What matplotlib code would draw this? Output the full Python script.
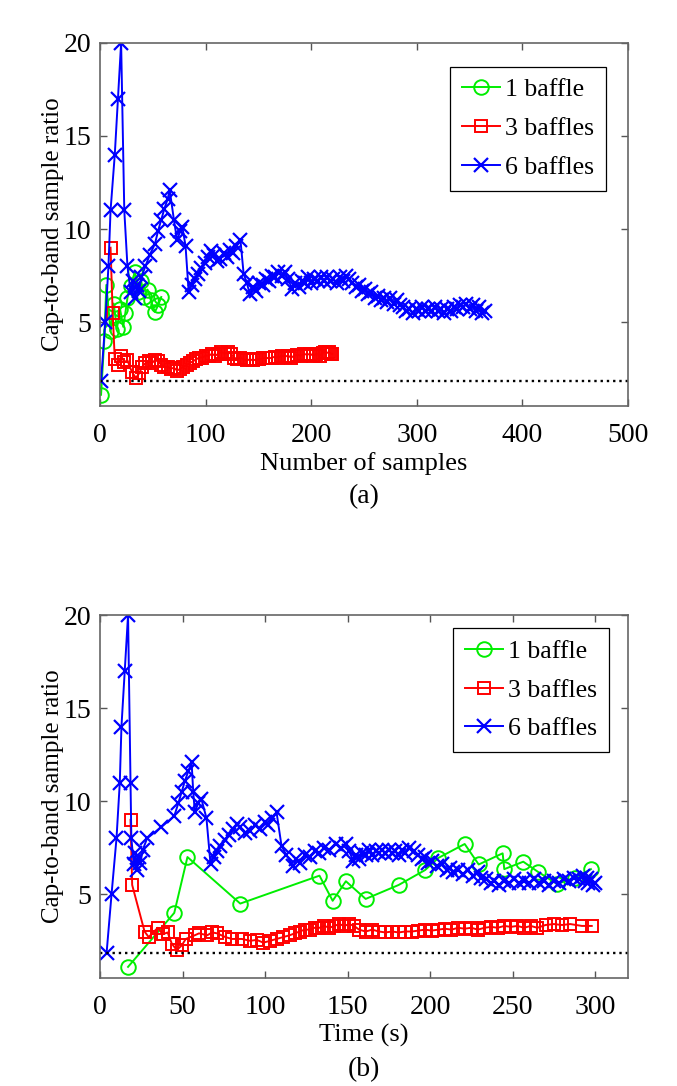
import numpy as np
import matplotlib
matplotlib.use('Agg')
import matplotlib.pyplot as plt

plt.rcParams['font.family'] = ['Liberation Serif', 'DejaVu Serif']

# threshold (dotted line)
threshold = 1.85

# 1 baffle
g_ratio = [1.1, 4.0, 7.0, 4.5, 6.0, 4.65, 5.7, 4.75, 5.5, 6.3,
           6.95, 7.7, 6.6, 7.2, 6.35, 6.75, 6.2, 5.55, 5.9, 6.35]
g_samples = [1, 4, 6, 10, 13, 16, 19, 22, 24, 26,
             29, 33, 36, 39, 42, 45, 48, 52, 55, 58]
g_time = [17, 45, 53, 85, 133, 141, 149, 161, 181, 197,
          205, 221, 229.5, 244, 245, 256.5, 265.5, 277, 288, 297.5]

# 3 baffles
r_ratio = [9.0, 5.5, 3.0, 2.7, 3.2, 2.85, 2.95, 2.35, 2.0, 2.25,
           2.6, 2.8, 2.9, 2.8, 2.95, 2.9, 2.7, 2.6, 2.6, 2.5,
           2.55, 2.4, 2.5, 2.6, 2.7, 2.8, 2.9, 3.0, 3.1, 3.1,
           3.2, 3.2, 3.3, 3.2, 3.3, 3.4, 3.3, 3.4, 3.3, 3.1,
           3.0, 3.1, 3.0, 2.95, 3.0, 2.95, 3.0, 3.0, 3.05, 3.1,
           3.05, 3.1, 3.15, 3.1, 3.2, 3.15, 3.2, 3.1, 3.2, 3.25,
           3.2, 3.3, 3.25, 3.3, 3.2, 3.3, 3.2, 3.35, 3.4, 3.35,
           3.4, 3.3, 3.3]
r_samples = [10, 12, 14, 17, 20, 23, 26, 30, 34, 37,
             40, 43, 46, 49, 52, 55, 58, 61, 64, 67,
             70, 73, 76, 79, 82, 85, 88, 91, 94, 97,
             100, 103, 106, 109, 112, 115, 118, 121, 124, 127,
             130, 133, 136, 139, 142, 145, 148, 151, 154, 157,
             160, 163, 166, 169, 172, 175, 178, 181, 184, 187,
             190, 193, 196, 199, 202, 205, 208, 211, 213, 215,
             217, 219, 220]
r_time = [18.5, 19.5, 27, 29.5, 35, 38, 41, 43.5, 46.5, 49.5,
          52, 57.5, 60, 65, 68, 71, 76, 80, 86, 91,
          95, 99, 103, 107, 111, 115, 118, 121, 124, 127,
          130, 133, 136, 139, 142, 145, 148, 151, 154, 157,
          161, 165, 169, 173, 177, 181, 185, 189, 193, 197,
          201, 205, 209, 213, 217, 221, 225, 229, 233, 237,
          241, 245, 249, 253, 257, 261, 265, 270, 275, 280,
          285, 292, 298]

# 6 baffles
b_ratio = [1.85, 5.0, 8.0, 11.0, 14.0, 17.0, 20.0, 11.0, 8.0, 6.6,
           7.2, 6.3, 7.0, 6.7, 7.4, 8.0, 8.6, 9.2, 9.9, 10.5,
           11.1, 11.6, 12.1, 10.5, 9.4, 9.9, 10.1, 9.1, 6.6, 7.0,
           7.3, 7.6, 7.9, 8.2, 8.5, 8.8, 8.6, 8.3, 8.4, 8.7,
           8.5, 8.9, 8.7, 9.1, 9.4, 7.6, 7.1, 6.5, 6.9, 6.7,
           7.1, 7.0, 7.3, 7.2, 7.5, 7.4, 7.7, 7.5, 7.7, 7.3,
           6.8, 7.1, 6.9, 7.2, 7.1, 7.4, 7.1, 7.3, 7.2, 7.4,
           7.2, 7.4, 7.2, 7.3, 7.1, 7.4, 7.2, 7.5, 7.3, 7.1,
           6.9, 7.0, 6.7, 6.8, 6.5, 6.6, 6.3, 6.4, 6.2, 6.3,
           6.1, 6.3, 6.0, 6.2, 5.9, 5.8, 5.6, 5.7, 5.5, 5.7,
           5.6, 5.8, 5.6, 5.7, 5.6, 5.8, 5.6, 5.7, 5.5, 5.7,
           5.6, 5.8, 5.7, 5.9, 5.8, 6.0, 5.7, 5.9, 5.6, 5.8,
           5.5, 5.6]
b_samples = [1, 5, 8, 10, 14, 17, 20, 23, 26, 29,
             31, 33, 35, 37, 39, 43, 47, 52, 55, 58,
             61, 64, 66, 70, 73, 76, 78, 81, 84, 87,
             90, 93, 96, 99, 102, 105, 108, 111, 114, 117,
             120, 123, 126, 129, 133, 136, 139, 142, 145, 148,
             151, 154, 157, 160, 163, 166, 169, 172, 175, 178,
             182, 185, 188, 191, 194, 197, 200, 203, 206, 209,
             212, 215, 218, 221, 224, 227, 230, 233, 236, 239,
             242, 245, 248, 251, 254, 257, 260, 263, 266, 269,
             272, 275, 278, 281, 284, 287, 290, 293, 296, 299,
             302, 305, 308, 311, 314, 317, 320, 323, 326, 329,
             332, 335, 338, 341, 344, 347, 350, 353, 356, 359,
             362, 365]
b_time = [4, 7, 10, 12, 13, 15, 17, 18.5, 19, 20.5,
          21.5, 22.5, 23.5, 24.5, 26, 28.5, 37, 45, 47.5, 49.5,
          51.5, 53.5, 55.5, 56.5, 57.5, 59.5, 61.5, 64.5, 67, 69,
          71, 73, 75.5, 78, 80.5, 83, 85, 88, 91, 94,
          97, 100, 102, 104.5, 107, 110, 113, 117, 119, 121,
          124, 127, 130, 133, 136, 139, 143, 146, 149, 151,
          153.5, 155, 157, 159, 161, 163, 165, 167, 169, 171,
          173, 175, 177, 179, 181, 183, 185, 187, 190, 193,
          195, 197, 199, 201, 204, 207, 210, 212, 214, 217,
          220, 223, 226, 229, 231, 234, 237, 239, 242, 245,
          248, 251, 254, 257, 260, 263, 266, 269, 272, 275,
          278, 281, 284, 287, 290, 293, 294, 295, 296, 297.5,
          299, 300]

labels = ['1 baffle', '3 baffles', '6 baffles']

fig = plt.figure(figsize=(6.77, 10.86), dpi=100)
ax1 = fig.add_axes([0.1477, 0.6262, 0.78, 0.3343])
ax2 = fig.add_axes([0.1477, 0.0994, 0.78, 0.3343])


def draw(ax, gx, rx, bx, xmax, xticks, xlabel, legend_anchor):
    ax.plot(gx, g_ratio, '-o', color='#00ee00', mfc='none', mec='#00ee00',
            ms=10.5, mew=1.4, lw=1.4, label=labels[0])
    ax.plot(rx, r_ratio, '-s', color='#ff0000', mfc='none', mec='#ff0000',
            ms=8.5, mew=1.4, lw=1.4, label=labels[1])
    ax.plot(bx, b_ratio, '-x', color='#0000ff', ms=10, mew=1.6, lw=1.4,
            label=labels[2])
    ax.axhline(threshold, color='black', ls=':', lw=1.7)
    ax.set_xlim(0, xmax)
    ax.set_ylim(0.5, 20)
    ax.set_xticks(xticks)
    ax.set_yticks([5, 10, 15, 20])
    ax.tick_params(direction='in', top=True, right=True, labelsize=20,
                   length=5, width=1, color='#555555', pad=6)
    ax.tick_params(axis='x', pad=12)
    for s in ax.spines.values():
        s.set_color('#666666')
        s.set_linewidth(1.2)
    ax.set_ylabel('Cap-to-band sample ratio', fontsize=18, labelpad=0)
    ax.set_xlabel(xlabel, fontsize=19, labelpad=3)
    leg = ax.legend(loc='upper right', bbox_to_anchor=legend_anchor,
                    fontsize=18.5, fancybox=False, edgecolor='black',
                    framealpha=1, handlelength=1.5, handletextpad=0.2,
                    borderpad=0.45, labelspacing=0.62, borderaxespad=0)
    leg.get_frame().set_linewidth(0.9)


draw(ax1, g_samples, r_samples, b_samples, 500, np.arange(0, 501, 100),
     'Number of samples', (0.958, 0.934))
draw(ax2, g_time, r_time, b_time, 320, np.arange(0, 301, 50),
     'Time (s)', (0.964, 0.964))

fig.text(0.5376, 0.5424, '(a)', ha='center', va='center', fontsize=20)
fig.text(0.5376, 0.0147, '(b)', ha='center', va='center', fontsize=20)

fig.savefig('out.png', dpi=100)
